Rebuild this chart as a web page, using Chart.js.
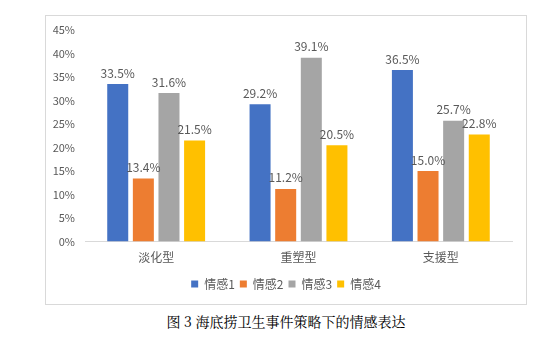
<!DOCTYPE html>
<html><head><meta charset="utf-8">
<script src="https://cdn.jsdelivr.net/npm/chart.js@4"></script>
<style>
html,body{margin:0;padding:0;background:#fff;width:560px;height:356px;overflow:hidden;}
#box{position:absolute;left:45px;top:15px;width:480px;height:288px;border:1px solid #D9D9D9;}
#c{position:absolute;left:0;top:0;}
#cap{position:absolute;left:0;width:572px;top:311px;text-align:center;font-family:"Noto Serif CJK SC","Noto Sans CJK SC",serif;font-size:14px;color:#000;}
</style></head>
<body>
<div id="box"><canvas id="c" width="480" height="288"></canvas></div>
<div id="cap">图 3 海底捞卫生事件策略下的情感表达</div>
<script>
const categories = ["淡化型", "重塑型", "支援型"];
const seriesNames = ["情感1", "情感2", "情感3", "情感4"];
const emotion1 = [33.5, 29.2, 36.5];
const emotion2 = [13.4, 11.2, 15.0];
const emotion3 = [31.6, 39.1, 25.7];
const emotion4 = [21.5, 20.5, 22.8];
const colors = ["#4472C4", "#ED7D31", "#A5A5A5", "#FFC000"];
const FONT = "'Noto Sans CJK SC', 'Open Sans', sans-serif";
const TXT = "#595959";

const labelPlugin = {
  id: 'barLabels',
  afterLayout(chart) {
    if (chart.legend) { chart.legend.left = 0; chart.legend.right = chart.width; }
  },
  afterDatasetsDraw(chart) {
    const ctx = chart.ctx;
    ctx.save();
    ctx.font = "12px " + FONT;
    ctx.fillStyle = TXT;
    ctx.textAlign = 'center';
    ctx.textBaseline = 'bottom';
    chart.data.datasets.forEach((ds, i) => {
      chart.getDatasetMeta(i).data.forEach((bar, j) => {
        ctx.fillText(ds.data[j].toFixed(1) + '%', bar.x, bar.y - 5);
      });
    });
    ctx.restore();
  }
};

new Chart(document.getElementById('c'), {
  type: 'bar',
  data: {
    labels: categories,
    datasets: [emotion1, emotion2, emotion3, emotion4].map((d, i) => ({
      label: seriesNames[i], data: d, backgroundColor: colors[i],
      categoryPercentage: 0.72, barPercentage: 0.82
    }))
  },
  options: {
    responsive: false, animation: false,
    layout: { padding: { left: 0, right: 14, top: 14, bottom: 4 } },
    plugins: {
      legend: {
        position: 'bottom',
        labels: { boxWidth: 7, boxHeight: 7, padding: 5, color: TXT, font: { family: FONT, size: 12 } }
      },
      tooltip: { enabled: false }
    },
    scales: {
      x: {
        grid: { display: false },
        border: { display: true, color: '#D9D9D9' },
        afterFit: s => { s.height += 7; },
        ticks: { color: TXT, font: { family: FONT, size: 12 }, padding: 1 }
      },
      y: {
        min: 0, max: 45,
        grid: { display: false },
        border: { display: false },
        afterFit: s => { s.width = 39; },
        ticks: { stepSize: 5, color: TXT, font: { family: FONT, size: 11 }, padding: 2,
                 callback: v => v + '%' }
      }
    }
  },
  plugins: [labelPlugin]
});
</script>
</body></html>
